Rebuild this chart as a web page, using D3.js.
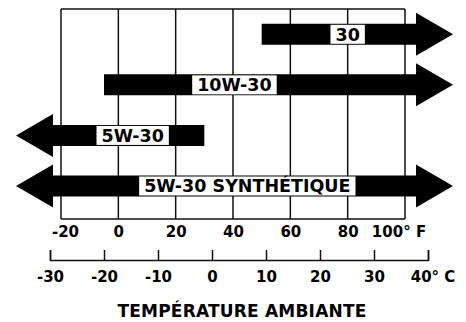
<!DOCTYPE html>
<html>
<head>
<meta charset="utf-8">
<script src="https://cdn.jsdelivr.net/npm/d3@7/dist/d3.min.js"></script>
<style>
  html, body { margin: 0; padding: 0; background: #fff; }
  svg { display: block; font-family: "DejaVu Sans", sans-serif; font-weight: bold; }
</style>
</head>
<body>
<svg id="chart" width="466" height="322"></svg>
<script>
// Oil grades and their recommended ambient temperature ranges (°F).
// null means the range is open-ended on that side (drawn as an arrow).
const oils  = ["30", "10W-30", "5W-30", "5W-30 SYNTHÉTIQUE"];
const lowF  = [50, -5, null, null];
const highF = [null, null, 30, null];

// Scale tick labels
const fTicks = [-20, 0, 20, 40, 60, 80, 100];
const cTicks = [-30, -20, -10, 0, 10, 20, 30, 40];
const title = "TEMPÉRATURE AMBIANTE";

const svg = d3.select("#chart");

// Layout
const gridTop = 9, gridBottom = 219;
const xF = d3.scaleLinear().domain([d3.min(fTicks), d3.max(fTicks)]).range([61, 405]);
const xC = d3.scaleLinear().domain([d3.min(cTicks), d3.max(cTicks)]).range([50, 428]);
const y = d3.scalePoint().domain(oils).range([34.3, 186]);

const barH = 21, headH = 43, headL = 37;
const rightBase = xF.range()[1] + 11;   // arrow base beyond the grid on the right
const leftBase  = xF.range()[0] - 8;    // arrow base beyond the grid on the left

// Grid: frame plus a vertical line at each °F tick
const grid = svg.append("g").attr("stroke", "#111").attr("stroke-width", 1.5).attr("fill", "none");
grid.append("line")
  .attr("x1", xF.range()[0]).attr("x2", xF.range()[1])
  .attr("y1", gridTop).attr("y2", gridTop);
grid.append("line")
  .attr("x1", xF.range()[0]).attr("x2", xF.range()[1])
  .attr("y1", gridBottom).attr("y2", gridBottom);
grid.selectAll("line.v").data(fTicks).join("line")
  .attr("class", "v")
  .attr("x1", d => xF(d)).attr("x2", d => xF(d))
  .attr("y1", gridTop).attr("y2", gridBottom);

// °F axis labels under the grid
const fAxis = d3.axisBottom(xF)
  .tickValues(fTicks)
  .tickSize(0)
  .tickPadding(7)
  .tickFormat(d => d === d3.max(fTicks) ? d + "° F" : String(d));
const gF = svg.append("g").attr("transform", `translate(0,${gridBottom})`).call(fAxis);
gF.select(".domain").remove();
gF.selectAll("text")
  .attr("font-family", "DejaVu Sans").attr("font-weight", "bold").attr("font-size", 15).attr("fill", "#000")
  .attr("dx", d => d === d3.min(fTicks) ? 4 : d === d3.max(fTicks) ? -6.5 : 0);

// °C axis: baseline with upward ticks, labels below
const cAxis = d3.axisBottom(xC)
  .tickValues(cTicks)
  .tickSize(-10)
  .tickPadding(11.5)
  .tickFormat(d => d === d3.max(cTicks) ? d + "° C" : String(d));
const gC = svg.append("g").attr("transform", "translate(0,260)").call(cAxis);
gC.select(".domain").attr("stroke", "#111").attr("stroke-width", 1.5);
gC.selectAll(".tick line").attr("stroke", "#111").attr("stroke-width", 1.5);
gC.selectAll("text")
  .attr("font-family", "DejaVu Sans").attr("font-weight", "bold").attr("font-size", 15).attr("fill", "#000")
  .attr("dy", "0.71em")
  .attr("dx", d => d === d3.max(cTicks) ? 4.5 : 0);

// Bars with arrowheads on their open ends
const rows = oils.map((name, i) => ({ name, lo: lowF[i], hi: highF[i] }));

function barPath(r) {
  const cy = y(r.name), h = barH / 2, H = headH / 2;
  const x0 = r.lo === null ? leftBase : xF(r.lo);
  const x1 = r.hi === null ? rightBase : xF(r.hi);
  const p = d3.path();
  p.moveTo(x0, cy - h);
  p.lineTo(x1, cy - h);
  if (r.hi === null) {
    p.lineTo(x1, cy - H);
    p.lineTo(x1 + headL, cy);
    p.lineTo(x1, cy + H);
  }
  p.lineTo(x1, cy + h);
  p.lineTo(x0, cy + h);
  if (r.lo === null) {
    p.lineTo(x0, cy + H);
    p.lineTo(x0 - headL, cy);
    p.lineTo(x0, cy - H);
  }
  p.closePath();
  return p.toString();
}

svg.append("g").selectAll("path").data(rows).join("path")
  .attr("d", barPath)
  .attr("fill", "#000");

// Grade labels on white plates, placed along each bar (°F position)
const labelAtF = { "30": 80, "10W-30": 40.5, "5W-30": 5, "5W-30 SYNTHÉTIQUE": 45 };
const labelSize = 17.5, padX = 5, plateH = barH - 2;

const lg = svg.append("g").selectAll("g").data(rows).join("g")
  .attr("transform", r => `translate(${xF(labelAtF[r.name])},${y(r.name)})`);
const labels = lg.append("text")
  .attr("text-anchor", "middle")
  .attr("y", labelSize * 0.365)
  .attr("font-size", labelSize)
  .attr("fill", "#000")
  .text(r => r.name);
lg.each(function() {
  const g = d3.select(this);
  const bb = g.select("text").node().getBBox();
  g.insert("rect", "text")
    .attr("x", bb.x - padX).attr("width", bb.width + 2 * padX)
    .attr("y", -plateH / 2).attr("height", plateH)
    .attr("fill", "#fff");
});

// Axis title
svg.append("text")
  .attr("x", 242).attr("y", 317)
  .attr("text-anchor", "middle")
  .attr("font-size", 17)
  .attr("letter-spacing", 0.2)
  .attr("fill", "#000")
  .text(title);
</script>
</body>
</html>
